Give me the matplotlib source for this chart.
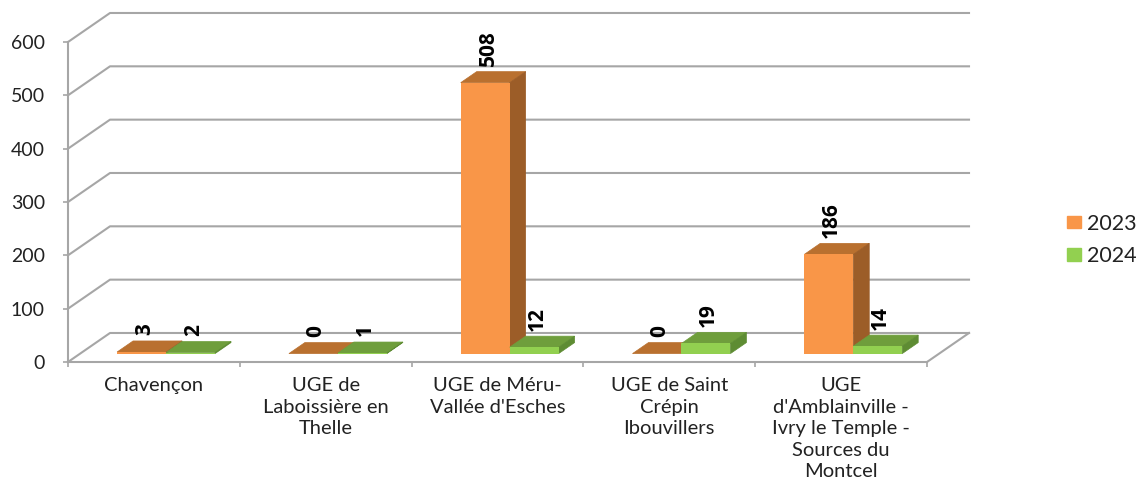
import matplotlib
matplotlib.use("Agg")
import matplotlib.pyplot as plt
from matplotlib.patches import Patch

categories = ["Chavençon", "UGE de\nLaboissière en\nThelle", "UGE de Méru-\nVallée d'Esches",
              "UGE de Saint\nCrépin\nIbouvillers", "UGE\nd'Amblainville -\nIvry le Temple -\nSources du\nMontcel"]
values_2023 = [3, 0, 508, 0, 186]
values_2024 = [2, 1, 12, 19, 14]
y_ticks = [0, 100, 200, 300, 400, 500, 600]

W, H = 1144, 479
FONT = "Lato"
GRID = "#A6A6A6"
TXT = "#222222"
DX, DY = 0.2445, 54.4      # full depth of the floor, in data units
D0, D1 = 0.29, 0.67        # depth range of the bars
BW = 0.285
styles = {"2023": ("#F99648", "#B9702F", "#9C5D28"),
          "2024": ("#92D050", "#6F9E3C", "#5E8C33")}

fig = plt.figure(figsize=(W / 100, H / 100), dpi=100)
ax = fig.add_axes([68 / W, (H - 362) / H, 859 / W, 320 / H])
ax.set_xlim(0, len(categories))
ax.set_ylim(0, 600)
ax.patch.set_visible(False)


def proj(x, v, d):
    return x + d * DX, v + d * DY


# walls
for t in y_ticks:
    xs = [0, DX, len(categories) + DX]
    ys = [t, t + DY, t + DY]
    ax.plot(xs, ys, color=GRID, lw=1.5, clip_on=False, zorder=1, solid_joinstyle="round")
ax.plot([len(categories), len(categories) + DX], [0, DY], color=GRID, lw=1.5, clip_on=False, zorder=1)


def draw(x0, v, cols, z):
    front, top, side = cols
    x1 = x0 + BW
    p = [proj(x0, v, D0), proj(x1, v, D0), proj(x1, v, D1), proj(x0, v, D1)]
    ax.fill(*zip(*p), color=top, lw=0.5, clip_on=False, zorder=z)
    s = [proj(x1, 0, D0), proj(x1, v, D0), proj(x1, v, D1), proj(x1, 0, D1)]
    ax.fill(*zip(*s), color=side, lw=0.5, clip_on=False, zorder=z)
    fx, fy = proj(x0, 0, D0)
    ax.bar(fx, v, BW, bottom=fy, align="edge", color=front, lw=0, clip_on=False, zorder=z)
    # data label
    cx, cy = proj(x0 + BW / 2, v, D1)
    ax.annotate(str(v), (proj(x0 + BW / 2, 0, D0)[0], cy), xytext=(2, 4), textcoords="offset points",
                rotation=90, ha="center", va="bottom", fontsize=15, fontweight="bold",
                family="Open Sans", color="black", zorder=20, annotation_clip=False)


for i, (a, b) in enumerate(zip(values_2023, values_2024)):
    c = i + 0.5
    draw(c - BW, a, styles["2023"], 5 + i * 2)
    draw(c, b, styles["2024"], 6 + i * 2)

# axes
for s in ("top", "right"):
    ax.spines[s].set_visible(False)
for s in ("left", "bottom"):
    ax.spines[s].set_color(GRID)
    ax.spines[s].set_linewidth(1.5)
ax.set_yticks(y_ticks)
ax.set_yticklabels([str(t) for t in y_ticks], fontsize=14, family=FONT, color=TXT)
ax.tick_params(axis="y", length=3.6, width=1.2, color=GRID, pad=13)
ax.set_xticks(range(len(categories) + 1))
ax.set_xticklabels([""] * (len(categories) + 1))
ax.tick_params(axis="x", which="major", length=3.6, width=1.2, color=GRID)
ax.set_xticks([i + 0.5 for i in range(len(categories))], minor=True)
ax.set_xticklabels(categories, minor=True, fontsize=14.5, family=FONT, color=TXT, linespacing=1.32)
ax.tick_params(axis="x", which="minor", length=0, pad=11)

handles = [Patch(color=styles[k][0], label=k) for k in styles]
fig.legend(handles=handles, loc="center left", bbox_to_anchor=(1067 / W, (H - 240) / H),
           frameon=False, prop={"family": FONT, "size": 15.5}, labelcolor=TXT,
           handlelength=0.65, handleheight=0.52, handletextpad=0.3, labelspacing=0.58,
           borderpad=0, borderaxespad=0)

fig.savefig("out.png", dpi=100)
